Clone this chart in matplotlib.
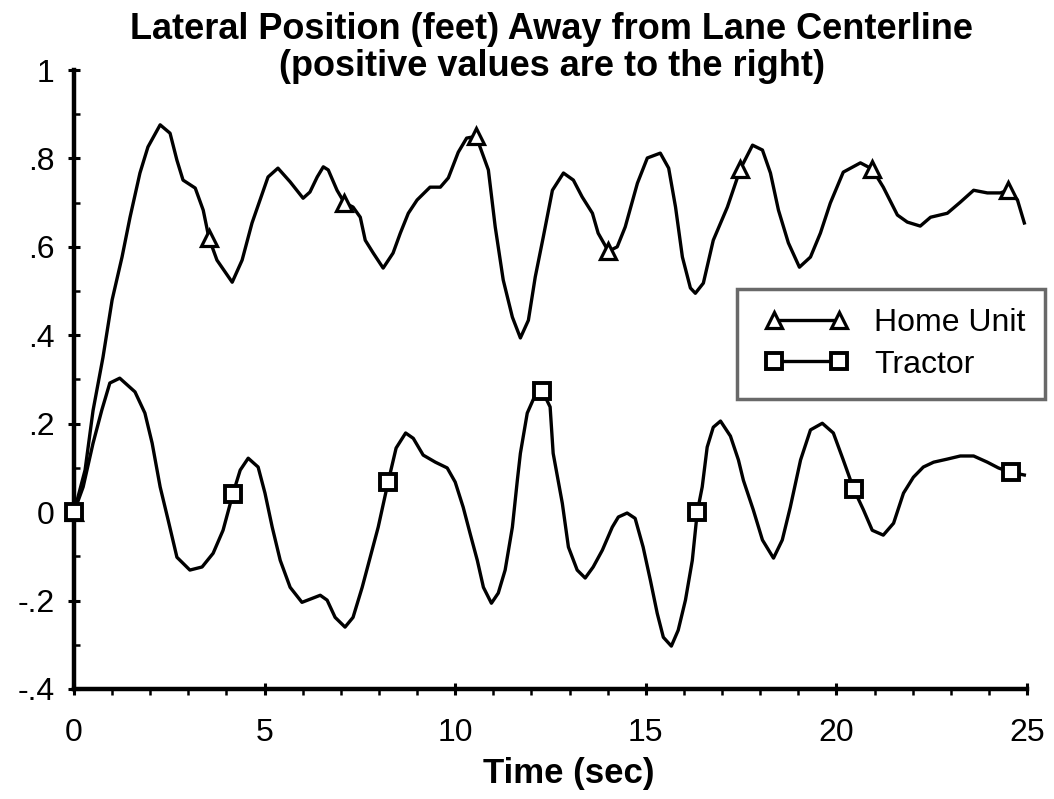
import matplotlib
matplotlib.use("Agg")
import matplotlib.pyplot as plt
from matplotlib.ticker import MultipleLocator, FixedLocator, FixedFormatter
from matplotlib.legend_handler import HandlerLine2D

plt.rcParams['font.family'] = ['Liberation Sans', 'DejaVu Sans']

# ---------------- data ----------------
home_t = [0, 0.29, 0.5, 0.76, 1.0, 1.26, 1.47, 1.73, 1.94, 2.26, 2.52, 2.70, 2.86,
          3.18, 3.39, 3.54, 3.75, 4.15, 4.41, 4.67, 4.88, 5.09, 5.35, 5.67, 6.01,
          6.19, 6.38, 6.54, 6.67, 6.90, 7.09, 7.32, 7.51, 7.64, 7.85, 8.11, 8.37,
          8.56, 8.77, 9.0, 9.34, 9.61, 9.82, 10.08, 10.3, 10.55, 10.87, 11.05,
          11.26, 11.5, 11.71, 11.92, 12.1, 12.31, 12.55, 12.84, 13.1, 13.33, 13.6,
          13.75, 14.02, 14.25, 14.46, 14.78, 15.04, 15.38, 15.6, 15.78, 15.96,
          16.17, 16.3, 16.51, 16.77, 17.14, 17.48, 17.8, 18.06, 18.27, 18.48,
          18.74, 19.03, 19.32, 19.58, 19.84, 20.18, 20.63, 20.94, 21.23, 21.6,
          21.86, 22.2, 22.47, 22.91, 23.25, 23.6, 23.96, 24.3, 24.51, 24.75, 24.93]
home_v = [0, 0.095, 0.23, 0.35, 0.48, 0.577, 0.667, 0.767, 0.826, 0.876, 0.857,
          0.796, 0.751, 0.733, 0.683, 0.62, 0.570, 0.520, 0.570, 0.654, 0.706,
          0.758, 0.778, 0.747, 0.710, 0.724, 0.758, 0.781, 0.774, 0.728, 0.70,
          0.690, 0.667, 0.615, 0.586, 0.552, 0.586, 0.631, 0.676, 0.706, 0.735,
          0.735, 0.756, 0.814, 0.846, 0.85, 0.774, 0.645, 0.525, 0.441, 0.394,
          0.434, 0.532, 0.622, 0.728, 0.767, 0.751, 0.713, 0.676, 0.631, 0.59,
          0.600, 0.645, 0.744, 0.801, 0.812, 0.778, 0.690, 0.577, 0.507, 0.495,
          0.518, 0.615, 0.690, 0.776, 0.830, 0.819, 0.767, 0.683, 0.609, 0.554,
          0.577, 0.631, 0.699, 0.769, 0.790, 0.776, 0.735, 0.672, 0.656, 0.647,
          0.667, 0.676, 0.701, 0.728, 0.722, 0.722, 0.728, 0.706, 0.654]
home_marker_t = [0, 3.54, 7.09, 10.55, 14.02, 17.48, 20.94, 24.51]

tractor_t = [0, 0.24, 0.5, 0.73, 0.94, 1.2, 1.6, 1.86, 2.05, 2.26, 2.47, 2.7, 3.04,
             3.36, 3.65, 3.91, 4.17, 4.36, 4.57, 4.83, 5.01, 5.2, 5.41, 5.67, 5.98,
             6.25, 6.46, 6.64, 6.85, 7.11, 7.32, 7.56, 7.77, 7.98, 8.24, 8.45, 8.7,
             8.9, 9.16, 9.48, 9.79, 10.0, 10.21, 10.39, 10.58, 10.74, 10.95, 11.13,
             11.31, 11.5, 11.63, 11.71, 11.89, 12.1, 12.28, 12.49, 12.57, 12.81,
             12.97, 13.2, 13.41, 13.62, 13.86, 14.12, 14.28, 14.51, 14.72, 14.93,
             15.12, 15.3, 15.46, 15.67, 15.85, 16.04, 16.22, 16.35, 16.48, 16.61,
             16.77, 16.96, 17.22, 17.43, 17.56, 17.82, 18.06, 18.35, 18.58, 18.79,
             19.06, 19.32, 19.63, 19.92, 20.18, 20.45, 20.71, 20.94, 21.23, 21.5,
             21.76, 22.02, 22.28, 22.55, 22.91, 23.25, 23.6, 23.96, 24.25, 24.57,
             24.93]
tractor_v = [0, 0.057, 0.156, 0.231, 0.292, 0.303, 0.272, 0.224, 0.156, 0.057,
             -0.018, -0.102, -0.131, -0.124, -0.093, -0.041, 0.042, 0.095, 0.122,
             0.102, 0.043, -0.034, -0.109, -0.17, -0.204, -0.195, -0.188, -0.199,
             -0.238, -0.26, -0.238, -0.17, -0.102, -0.034, 0.068, 0.145, 0.179,
             0.167, 0.129, 0.113, 0.1, 0.068, 0.011, -0.048, -0.109, -0.17, -0.206,
             -0.183, -0.131, -0.034, 0.072, 0.133, 0.224, 0.265, 0.275, 0.238,
             0.133, 0.02, -0.079, -0.131, -0.149, -0.124, -0.086, -0.034, -0.011,
             -0.002, -0.014, -0.079, -0.154, -0.229, -0.283, -0.303, -0.267,
             -0.199, -0.109, 0.0, 0.057, 0.147, 0.192, 0.206, 0.172, 0.118, 0.072,
             0.005, -0.063, -0.104, -0.063, 0.011, 0.118, 0.186, 0.201, 0.179,
             0.118, 0.053, 0.005, -0.041, -0.052, -0.025, 0.043, 0.079, 0.102,
             0.113, 0.12, 0.127, 0.127, 0.113, 0.1, 0.09, 0.084]
tractor_marker_t = [0, 4.17, 8.24, 12.28, 16.35, 20.45, 24.57]

x_ticks = [0, 5, 10, 15, 20, 25]
x_tick_labels = ['0', '5', '10', '15', '20', '25']
y_ticks = [-0.4, -0.2, 0, 0.2, 0.4, 0.6, 0.8, 1.0]
y_tick_labels = ['-.4', '-.2', '0', '.2', '.4', '.6', '.8', '1']

title_line1 = 'Lateral Position (feet) Away from Lane Centerline'
title_line2 = '(positive values are to the right)'
x_label = 'Time (sec)'
series_names = ['Home Unit', 'Tractor']

# ---------------- figure ----------------
W, H = 1054, 799
fig = plt.figure(figsize=(W / 100, H / 100), dpi=100)
ax = fig.add_axes([74 / W, 110 / H, 953 / W, 619 / H])
ax.set_xlim(0, 25)
ax.set_ylim(-0.4, 1.0)

home_idx = [home_t.index(t) for t in home_marker_t]
tr_idx = [tractor_t.index(t) for t in tractor_marker_t]

l1, = ax.plot(home_t, home_v, color='black', lw=2.4, marker='^', markevery=home_idx,
              markersize=12, markerfacecolor='white', markeredgecolor='black',
              markeredgewidth=2.3, clip_on=False, label=series_names[0], zorder=3)
l2, = ax.plot(tractor_t, tractor_v, color='black', lw=2.4, marker='s', markevery=tr_idx,
              markersize=11, markerfacecolor='white', markeredgecolor='black',
              markeredgewidth=2.8, clip_on=False, label=series_names[1], zorder=4)

for s in ['top', 'right']:
    ax.spines[s].set_visible(False)
for s in ['left', 'bottom']:
    ax.spines[s].set_linewidth(3.2)

ax.xaxis.set_major_locator(FixedLocator(x_ticks))
ax.xaxis.set_major_formatter(FixedFormatter(x_tick_labels))
ax.yaxis.set_major_locator(FixedLocator(y_ticks))
ax.yaxis.set_major_formatter(FixedFormatter(y_tick_labels))
ax.xaxis.set_minor_locator(MultipleLocator(1))
ax.yaxis.set_minor_locator(MultipleLocator(0.1))

ax.tick_params(axis='both', which='major', direction='inout', length=8, width=2.2,
               labelsize=23)
ax.tick_params(axis='x', which='major', pad=17)
ax.tick_params(axis='y', which='major', pad=10)
ax.tick_params(axis='x', which='minor', direction='out', length=4, width=1.8)
ax.tick_params(axis='y', which='minor', direction='in', length=4, width=1.8)

fig.text(552 / W, 1 - 39 / H, title_line1, ha='center', va='baseline',
         fontsize=26, fontweight='bold')
fig.text(552 / W, 1 - 76 / H, title_line2, ha='center', va='baseline',
         fontsize=26, fontweight='bold')
fig.text(569 / W, 1 - 783 / H, x_label, ha='center', va='baseline',
         fontsize=25, fontweight='bold')

leg = ax.legend(handles=[l1, l2], loc='upper left',
                bbox_to_anchor=(737 / W, 1 - 289 / H), bbox_transform=fig.transFigure,
                numpoints=2, fontsize=23, handlelength=3.15, handletextpad=0.55,
                borderpad=0.6, labelspacing=0.36, borderaxespad=0, fancybox=False,
                frameon=True,
                handler_map={l1: HandlerLine2D(marker_pad=0.55, numpoints=2),
                             l2: HandlerLine2D(marker_pad=0.55, numpoints=2)})
frame = leg.get_frame()
frame.set_edgecolor('#444444')
frame.set_linewidth(2.5)
for h in leg.legend_handles:
    h.set_markersize(11)

fig.savefig('out.png', dpi=100)
